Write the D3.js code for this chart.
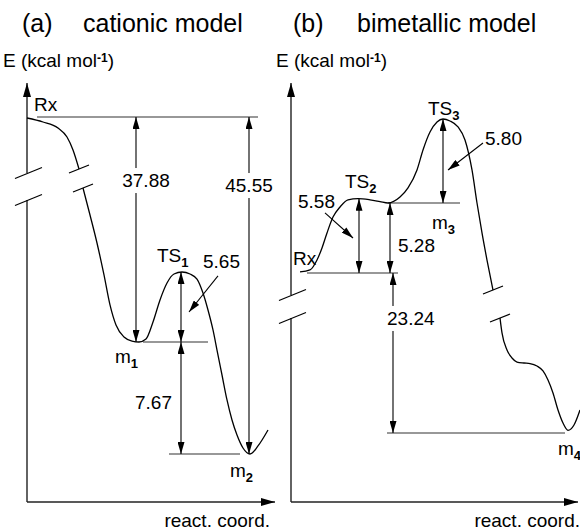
<!DOCTYPE html>
<html>
<head>
<meta charset="utf-8">
<script src="https://cdn.jsdelivr.net/npm/d3@7"></script>
<style>
  body { margin: 0; background: #fff; }
  svg text { font-family: "Liberation Sans", Arial, Helvetica, sans-serif; fill: #000; }
</style>
</head>
<body>
<div id="chart"></div>
<script>
// ---------- (a) cationic model ----------
// energies in kcal/mol relative to Rx
const aLevels = ["Rx", "m1", "TS1", "m2"];
const aEnergy = [0, -37.88, -32.23, -45.55];
const aLabelAt = [[3.5, 1.25], [44, -39.32], [65, -30.15], [101.5, -47.13]];
// horizontal level lines (reaction coordinate extent)
const aLines = ["Rx", "m1", "m2"];
const aLineStart = [5, 58, 71];
const aLineEnd = [115.5, 90.5, 106.5];
// energy gaps shown as double arrows
const aArrowFrom = ["Rx", "TS1", "m1", "Rx"];
const aArrowTo = ["m1", "m1", "m2", "m2"];
const aArrowAt = [54.5, 77, 77, 111];
const aArrowTextAt = [[59.5, -14.56], [88, -31.4], [72.5, -42.47], [111, -15.6]];
const aPointers = [[95.5, -32.55, 81, -35.46]];
// energy profile [reaction coord, energy], split by the axis break
const aCurveUpper = [[0, -0.21], [8, -1.04], [15.5, -2.29], [20, -4.16], [23, -6.86], [26, -10.81]];
const aCurveLower = [
  [28, -14.76], [31.5, -20.38], [35, -26.2], [38.5, -32.47], [41.5, -34.89], [44.5, -36.51],
  [48.5, -37.48], [52.5, -37.8], [56, -37.88], [59.5, -37.64], [63, -36.27], [66.5, -34.49],
  [70, -33.12], [73.5, -32.39], [77.5, -32.23], [81.5, -32.39], [85, -32.8], [88, -33.93],
  [90.5, -35.3], [93, -36.91], [95, -38.43], [97.5, -40.14], [100, -41.85], [102.5, -43.22],
  [105, -44.25], [108, -45.14], [111.5, -45.55], [115.5, -45.0], [120.5, -43.91]
];
const aAxisBreak = [-11.64, -17.26];

// ---------- (b) bimetallic model ----------
const bLevels = ["Rx", "TS2", "m3", "TS3", "m4"];
const bEnergy = [0, 5.58, 5.28, 11.08, -23.24];
const bLabelAt = [[1, 0.6], [27, 6.32], [70.5, 3.32], [68.5, 11.36], [133.5, -26.43]];
const bLines = ["Rx", "m3", "m4"];
const bLineStart = [8, 48.5, 48];
const bLineEnd = [53.5, 84.5, 137];
const bArrowFrom = ["Rx", "Rx", "m3", "Rx"];
const bArrowTo = ["TS2", "m3", "TS3", "m4"];
const bArrowAt = [34, 49.5, 76, 51];
const bArrowTextAt = [[3.5, 4.87], [53.5, 1.58], [97, 9.28], [48, -7.55]];
const bPointers = [[17, 4.53, 31, 2.64], [96, 9.42, 78.5, 7.56]];
const bCurveUpper = [
  [4.5, 0.08], [9.5, 0.23], [13, 0.98], [15.5, 1.89], [18, 3.02], [21, 4.22], [24.5, 4.98],
  [28.5, 5.5], [33.5, 5.58], [39.5, 5.5], [44.5, 5.38], [48.5, 5.28], [54.5, 5.69], [58.5, 6.32],
  [63, 7.56], [66, 8.94], [69.5, 10.18], [73, 10.87], [76, 11.08], [79.5, 10.94], [83.5, 10.53],
  [87, 9.63], [90.5, 7.56], [93, 5.28], [95.5, 3.02], [98, 0.98], [101, -2.47]
];
const bCurveLower = [
  [104.5, -6.54], [105.5, -8.71], [108, -11.18], [110.5, -12.35], [113, -12.93], [116.5, -13.07],
  [119.5, -13.15], [123, -13.51], [126, -14.23], [128.5, -15.54], [131, -17.43], [133.5, -19.9],
  [136, -21.79], [138.5, -22.85], [141.5, -22.08], [144.5, -19.9]
];
const bAxisBreak = [-3.2, -6.54];

// ---------- layout ----------
const width = 580, height = 531;
const svg = d3.select("#chart").append("svg")
  .attr("width", width)
  .attr("height", height);

const defs = svg.append("defs");
function addHead(id, len, wid) {
  defs.append("marker")
    .attr("id", id)
    .attr("viewBox", `0 0 ${len} ${wid}`)
    .attr("refX", len).attr("refY", wid / 2)
    .attr("markerWidth", len).attr("markerHeight", wid)
    .attr("markerUnits", "userSpaceOnUse")
    .attr("orient", "auto-start-reverse")
    .append("path")
    .attr("d", `M0,0L${len},${wid / 2}L0,${wid}Z`)
    .attr("fill", "#000");
}
addHead("head", 12, 7);
addHead("axhead", 14, 8);

const panelA = {
  title: "(a)", name: "cationic model", titleX: 22, nameX: 83, eLabelX: 3, coordX: 270,
  left: 27, right: 275, top: 83, bottom: 502,
  x: d3.scaleLinear().domain([0, 124]).range([27, 275]),
  // schematic (broken) energy axis: piecewise linear through the stationary points
  y: d3.scaleLinear().domain([aEnergy[0], aEnergy[2], aEnergy[1], aEnergy[3]]).range([117, 272, 342, 454]),
  levels: aLevels, energy: aEnergy, labelAt: aLabelAt,
  lines: aLines, lineStart: aLineStart, lineEnd: aLineEnd,
  arrowFrom: aArrowFrom, arrowTo: aArrowTo, arrowAt: aArrowAt, arrowTextAt: aArrowTextAt,
  anchors: ["middle", "start", "end", "middle"], masked: [true, false, false, true],
  pointers: aPointers, curves: [aCurveUpper, aCurveLower], axisBreak: aAxisBreak
};

const panelB = {
  title: "(b)", name: "bimetallic model", titleX: 293, nameX: 357, eLabelX: 276, coordX: 580,
  left: 291, right: 578, top: 83, bottom: 502,
  x: d3.scaleLinear().domain([0, 143.5]).range([291, 578]),
  y: d3.scaleLinear().domain([bEnergy[3], bEnergy[2], bEnergy[0], bEnergy[4]]).range([119, 203, 273, 433]),
  levels: bLevels, energy: bEnergy, labelAt: bLabelAt,
  lines: bLines, lineStart: bLineStart, lineEnd: bLineEnd,
  arrowFrom: bArrowFrom, arrowTo: bArrowTo, arrowAt: bArrowAt, arrowTextAt: bArrowTextAt,
  anchors: ["start", "start", "start", "start"], masked: [false, false, false, true],
  pointers: bPointers, curves: [bCurveUpper, bCurveLower], axisBreak: bAxisBreak
};

// text with trailing digits as subscript (TS1, m2 ...)
function nameText(sel, name) {
  const m = name.match(/^(\D+)(\d*)$/);
  sel.append("tspan").text(m[1]);
  if (m[2]) {
    sel.append("tspan").attr("dy", 5).attr("font-size", 13).attr("font-weight", "bold").text(m[2]);
  }
}

function breakMark(g, cx, cy, hw, hh) {
  g.append("line")
    .attr("x1", cx - hw).attr("y1", cy + hh)
    .attr("x2", cx + hw).attr("y2", cy - hh)
    .attr("stroke", "#000").attr("stroke-width", 1.2);
}

function drawPanel(p) {
  const g = svg.append("g");
  const x = p.x, y = p.y;
  const E = name => p.energy[p.levels.indexOf(name)];

  // titles
  g.append("text").attr("x", p.titleX).attr("y", 32).attr("font-size", 25).text(p.title);
  g.append("text").attr("x", p.nameX).attr("y", 32).attr("font-size", 25).text(p.name);
  const el = g.append("text").attr("x", p.eLabelX).attr("y", 67).attr("font-size", 19);
  el.append("tspan").text("E (kcal mol");
  el.append("tspan").attr("dy", -5).attr("font-size", 12).attr("font-weight", "bold").text("-1");
  el.append("tspan").attr("dy", 5).text(")");
  g.append("text").attr("x", p.coordX).attr("y", 527).attr("font-size", 19)
    .attr("text-anchor", "end").text("react. coord.");

  // axes with break
  const axis = g.append("g").attr("stroke", "#222").attr("stroke-width", 1.4);
  axis.append("line")
    .attr("x1", p.left).attr("y1", y(p.axisBreak[0]))
    .attr("x2", p.left).attr("y2", p.top)
    .attr("marker-end", "url(#axhead)");
  axis.append("line")
    .attr("x1", p.left).attr("y1", p.bottom)
    .attr("x2", p.left).attr("y2", y(p.axisBreak[1]));
  axis.append("line")
    .attr("x1", p.left).attr("y1", p.bottom)
    .attr("x2", p.right).attr("y2", p.bottom)
    .attr("marker-end", "url(#axhead)");
  p.axisBreak.forEach(e => breakMark(g, p.left + 1.5, y(e), 13.5, 5.5));

  // level lines
  g.selectAll(".lvl").data(p.lines).enter().append("line")
    .attr("class", "lvl")
    .attr("x1", (d, i) => x(p.lineStart[i]))
    .attr("x2", (d, i) => x(p.lineEnd[i]))
    .attr("y1", d => y(E(d)))
    .attr("y2", d => y(E(d)))
    .attr("stroke", "#333").attr("stroke-width", 1.1);

  // energy profile
  const line = d3.line().x(d => x(d[0])).y(d => y(d[1])).curve(d3.curveMonotoneX);
  p.curves.forEach(c => {
    g.append("path").attr("d", line(c))
      .attr("fill", "none").attr("stroke", "#000").attr("stroke-width", 1.3);
  });
  const up = p.curves[0][p.curves[0].length - 1];
  const lo = p.curves[1][0];
  breakMark(g, x(up[0]), y(up[1]), 10, 4);
  breakMark(g, x(lo[0]), y(lo[1]), 10, 4);

  // gap arrows
  p.arrowFrom.forEach((from, i) => {
    g.append("line")
      .attr("x1", x(p.arrowAt[i])).attr("y1", y(E(from)))
      .attr("x2", x(p.arrowAt[i])).attr("y2", y(E(p.arrowTo[i])))
      .attr("stroke", "#000").attr("stroke-width", 1.1)
      .attr("marker-start", "url(#head)").attr("marker-end", "url(#head)");
  });
  p.arrowFrom.forEach((from, i) => {
    const val = Math.abs(E(from) - E(p.arrowTo[i])).toFixed(2);
    const t = g.append("text")
      .attr("x", x(p.arrowTextAt[i][0])).attr("y", y(p.arrowTextAt[i][1]))
      .attr("font-size", 19).attr("text-anchor", p.anchors[i]).text(val);
    if (p.masked[i]) {
      const b = t.node().getBBox();
      g.insert("rect", () => t.node())
        .attr("x", b.x).attr("y", b.y - 2).attr("width", b.width).attr("height", b.height + 4)
        .attr("fill", "#fff");
    }
  });
  p.pointers.forEach(q => {
    g.append("line")
      .attr("x1", x(q[0])).attr("y1", y(q[1]))
      .attr("x2", x(q[2])).attr("y2", y(q[3]))
      .attr("stroke", "#000").attr("stroke-width", 1.1)
      .attr("marker-end", "url(#head)");
  });

  // stationary point labels
  p.levels.forEach((name, i) => {
    const t = g.append("text")
      .attr("x", x(p.labelAt[i][0])).attr("y", y(p.labelAt[i][1]))
      .attr("font-size", 19);
    nameText(t, name);
  });
}

drawPanel(panelA);
drawPanel(panelB);
</script>
</body>
</html>
